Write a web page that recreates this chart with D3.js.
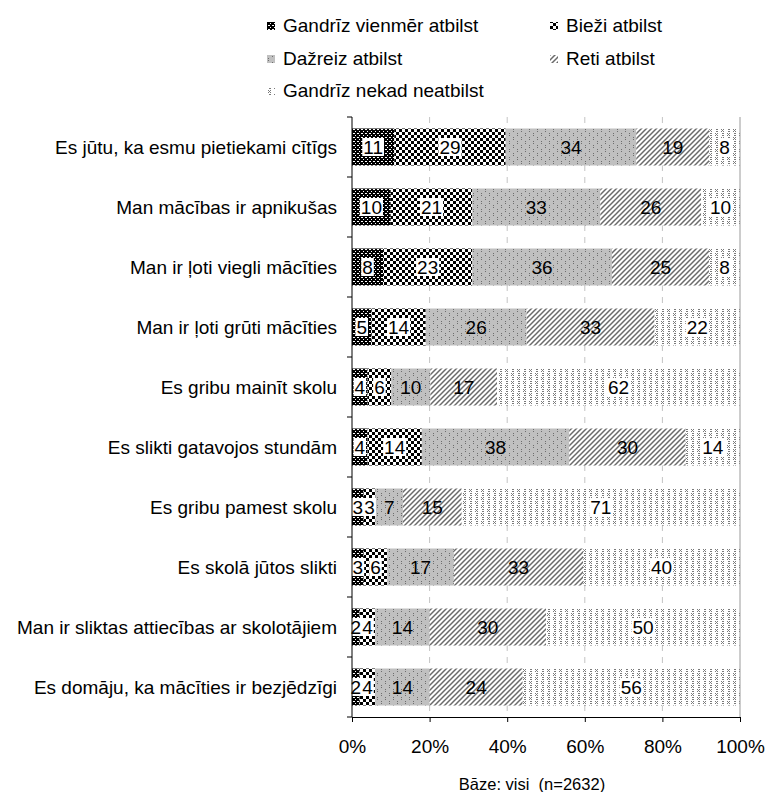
<!DOCTYPE html>
<html>
<head>
<meta charset="utf-8">
<script src="https://cdn.jsdelivr.net/npm/d3@7"></script>
<style>
  body { margin: 0; background: #fff; }
  svg text { font-family: "Liberation Sans", Arial, sans-serif; fill: #000; }
</style>
</head>
<body>
<div id="chart"></div>
<script>
// kategorijas (no augšas uz leju)
var categories = [
    'Es jūtu, ka esmu pietiekami cītīgs',
    'Man mācības ir apnikušas',
    'Man ir ļoti viegli mācīties',
    'Man ir ļoti grūti mācīties',
    'Es gribu mainīt skolu',
    'Es slikti gatavojos stundām',
    'Es gribu pamest skolu',
    'Es skolā jūtos slikti',
    'Man ir sliktas attiecības ar skolotājiem',
    'Es domāju, ka mācīties ir bezjēdzīgi'
];
var seriesNames = [
    'Gandrīz vienmēr atbilst',
    'Bieži atbilst',
    'Dažreiz atbilst',
    'Reti atbilst',
    'Gandrīz nekad neatbilst'
];
var vienmer = [11, 10, 8, 5, 4, 4, 3, 3, 2, 2];
var biezi   = [29, 21, 23, 14, 6, 14, 3, 6, 4, 4];
var dazreiz = [34, 33, 36, 26, 10, 38, 7, 17, 14, 14];
var reti    = [19, 26, 25, 33, 17, 30, 15, 33, 30, 24];
var nekad   = [8, 10, 8, 22, 62, 14, 71, 40, 50, 56];
var xTicks = [0, 20, 40, 60, 80, 100];
var baseNote = 'Bāze: visi  (n=2632)';

var allSeries = [vienmer, biezi, dazreiz, reti, nekad];
var patternIds = ['p1', 'p2', 'p3', 'p4', 'p5'];

var plot = { left: 352, right: 740, top: 117, bottom: 717 };

var svg = d3.select('#chart')
    .append('svg')
    .attr('width', 768)
    .attr('height', 792);

// --- raksti (patterns)
var defs = svg.append('defs');

function dots(p, list, color) {
    list.forEach(function (d) {
        p.append('rect').attr('x', d[0]).attr('y', d[1])
            .attr('width', 1).attr('height', 1).attr('fill', color);
    });
}

var p1 = defs.append('pattern').attr('id', 'p1')
    .attr('patternUnits', 'userSpaceOnUse').attr('width', 4).attr('height', 4);
p1.append('rect').attr('width', 4).attr('height', 4).attr('fill', '#000');
dots(p1, [[1, 1], [2, 1], [3, 3]], '#fff');

var p2 = defs.append('pattern').attr('id', 'p2')
    .attr('patternUnits', 'userSpaceOnUse').attr('width', 6).attr('height', 6);
p2.append('rect').attr('width', 6).attr('height', 6).attr('fill', '#fff');
p2.append('rect').attr('width', 3).attr('height', 3).attr('fill', '#000');
p2.append('rect').attr('x', 3).attr('y', 3).attr('width', 3).attr('height', 3).attr('fill', '#000');

var p3 = defs.append('pattern').attr('id', 'p3')
    .attr('patternUnits', 'userSpaceOnUse').attr('width', 8).attr('height', 8);
p3.append('rect').attr('width', 8).attr('height', 8).attr('fill', '#c0c0c0');
dots(p3, [[1, 1], [1, 3], [5, 5], [5, 7]], '#6e6e6e');

var p4 = defs.append('pattern').attr('id', 'p4')
    .attr('patternUnits', 'userSpaceOnUse').attr('width', 5).attr('height', 5);
p4.append('rect').attr('width', 5).attr('height', 5).attr('fill', '#fff');
p4.append('path').attr('d', 'M0,5 L5,0 M-1,1 L1,-1 M4,6 L6,4')
    .attr('stroke', '#6a6a6a').attr('stroke-width', 1.5);

var p5 = defs.append('pattern').attr('id', 'p5')
    .attr('patternUnits', 'userSpaceOnUse').attr('width', 12).attr('height', 8);
p5.append('rect').attr('width', 12).attr('height', 8).attr('fill', '#fff');
dots(p5, [[1, 1], [3, 1], [2, 2], [1, 3], [3, 3], [8, 1], [9, 1], [8, 3], [9, 3],
          [7, 5], [9, 5], [8, 6], [7, 7], [9, 7], [2, 5], [3, 5], [2, 7], [3, 7]], '#7a7a7a');

// --- skalas
var xScale = d3.scaleLinear().domain([0, 100]).range([plot.left, plot.right]);
var yScale = d3.scaleBand().domain(categories)
    .range([plot.top, plot.bottom])
    .paddingInner(0.383)
    .paddingOuter(0.1915);

// režģa līnijas
svg.append('g')
    .selectAll('line')
    .data(xTicks.filter(function (d) { return d > 0 && d < 100; }))
    .enter()
    .append('line')
    .attr('x1', function (d) { return xScale(d); })
    .attr('x2', function (d) { return xScale(d); })
    .attr('y1', plot.top)
    .attr('y2', plot.bottom)
    .attr('stroke', '#c4c4c4')
    .attr('stroke-dasharray', '6,6');

// sakrautie dati (normēti uz 100%)
var rows = categories.map(function (c, i) {
    var vals = allSeries.map(function (s) { return s[i]; });
    var total = d3.sum(vals);
    var acc = 0;
    return vals.map(function (v, k) {
        var x0 = acc / total * 100;
        acc += v;
        return { cat: c, k: k, v: v, x0: x0, x1: acc / total * 100 };
    });
});
var segs = [].concat.apply([], rows);

svg.append('g')
    .selectAll('rect')
    .data(segs)
    .enter()
    .append('rect')
    .attr('x', function (d) { return xScale(d.x0); })
    .attr('y', function (d) { return yScale(d.cat); })
    .attr('width', function (d) { return xScale(d.x1) - xScale(d.x0); })
    .attr('height', yScale.bandwidth())
    .attr('fill', function (d) { return 'url(#' + patternIds[d.k] + ')'; });

// labels
var labelG = svg.append('g');
segs.forEach(function (d) {
    var cx = (xScale(d.x0) + xScale(d.x1)) / 2;
    var cy = yScale(d.cat) + yScale.bandwidth() / 2;
    var g = labelG.append('g');
    var bg = g.append('rect').attr('fill', '#fff');
    var t = g.append('text')
        .attr('x', cx)
        .attr('y', cy)
        .attr('dy', '0.36em')
        .attr('text-anchor', 'middle')
        .style('font-size', '19px')
        .text(d.v);
    if (d.k == 0 || d.k == 1 || d.k == 4) {
        var w = t.node().getComputedTextLength();
        bg.attr('x', cx - w / 2 - 1).attr('y', cy - 9).attr('width', w + 2).attr('height', 18);
    } else {
        bg.remove();
    }
});

// labā robeža
svg.append('line')
    .attr('x1', plot.right).attr('x2', plot.right)
    .attr('y1', plot.top).attr('y2', plot.bottom)
    .attr('stroke', '#9a9a9a');

// x ass
var xAxis = svg.append('g')
    .attr('transform', 'translate(0,' + plot.bottom + ')')
    .call(d3.axisBottom(xScale)
        .tickValues(xTicks)
        .tickFormat(function (d) { return d + '%'; })
        .tickSize(5)
        .tickSizeOuter(0)
        .tickPadding(18));
xAxis.select('.domain').attr('stroke', '#000');
xAxis.selectAll('.tick line').attr('stroke', '#000');
xAxis.selectAll('text').style('font-size', '19px').style('font-family', '"Liberation Sans", Arial, sans-serif');

// y ass
var step = yScale.step();
var gap = (step - yScale.bandwidth()) / 2;
var bounds = categories.map(function (c) { return yScale(c) - gap; });
bounds.push(plot.bottom);
svg.append('line')
    .attr('x1', plot.left).attr('x2', plot.left)
    .attr('y1', plot.top).attr('y2', plot.bottom)
    .attr('stroke', '#000');
svg.append('g')
    .selectAll('line')
    .data(bounds)
    .enter()
    .append('line')
    .attr('x1', plot.left - 5).attr('x2', plot.left)
    .attr('y1', function (d) { return d; })
    .attr('y2', function (d) { return d; })
    .attr('stroke', '#000');

svg.append('g')
    .selectAll('text')
    .data(categories)
    .enter()
    .append('text')
    .attr('x', 337)
    .attr('y', function (d) { return yScale(d) + yScale.bandwidth() / 2; })
    .attr('dy', '0.36em')
    .attr('text-anchor', 'end')
    .style('font-size', '19px')
    .text(function (d) { return d; });

// leģenda
var legendPos = [
    { x: 267, y: 32 }, { x: 550, y: 32 },
    { x: 267, y: 65 }, { x: 550, y: 65 },
    { x: 267, y: 97 }
];
var legend = svg.append('g')
    .selectAll('g')
    .data(seriesNames)
    .enter()
    .append('g')
    .attr('transform', function (d, i) {
        return 'translate(' + legendPos[i].x + ',' + legendPos[i].y + ')';
    });
legend.append('rect')
    .attr('x', 0).attr('y', -10)
    .attr('width', 8).attr('height', 8)
    .attr('fill', function (d, i) { return 'url(#' + patternIds[i] + ')'; });
legend.append('text')
    .attr('x', 16)
    .attr('y', 0)
    .style('font-size', '19px')
    .text(function (d) { return d; });

// piezīme
svg.append('text')
    .attr('x', 532)
    .attr('y', 790)
    .attr('text-anchor', 'middle')
    .style('font-size', '16.5px')
    .style('white-space', 'pre')
    .text(baseNote);
</script>
</body>
</html>
